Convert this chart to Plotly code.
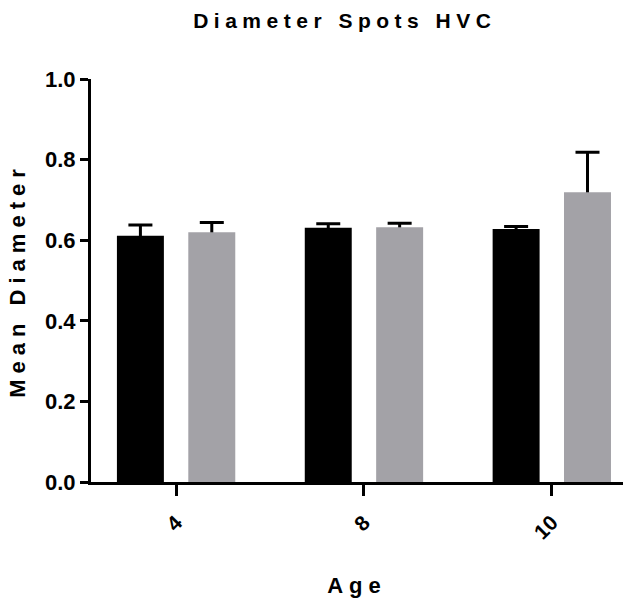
import plotly.graph_objects as go

categories = ["4", "8", "10"]
series_names = ["Group A", "Group B"]
black_values = [0.611, 0.631, 0.628]
black_err = [0.027, 0.010, 0.006]
gray_values = [0.620, 0.632, 0.719]
gray_err = [0.024, 0.010, 0.099]
y_ticks = [0.0, 0.2, 0.4, 0.6, 0.8, 1.0]
y_tick_labels = ["0.0", "0.2", "0.4", "0.6", "0.8", "1.0"]
colors = ["#000000", "#a3a2a7"]

FONT = "Liberation Sans, Arial, sans-serif"

fig = go.Figure()
# error bars first (transparent bars), so the visible bars cover the lower half
for vals, errs, grp in [(black_values, black_err, "a"), (gray_values, gray_err, "b")]:
    fig.add_trace(go.Bar(
        x=categories, y=vals, offsetgroup=grp, showlegend=False, hoverinfo="skip",
        marker=dict(color="rgba(0,0,0,0)", line=dict(width=0)),
        error_y=dict(type="data", array=errs, color="#000000", thickness=3, width=12),
    ))
for vals, name, col, grp in [(black_values, series_names[0], colors[0], "a"),
                             (gray_values, series_names[1], colors[1], "b")]:
    fig.add_trace(go.Bar(
        x=categories, y=vals, name=name, offsetgroup=grp,
        marker=dict(color=col, line=dict(width=0)),
    ))

fig.update_layout(
    width=635, height=612,
    margin=dict(l=91, r=12, t=79, b=130),
    paper_bgcolor="white", plot_bgcolor="white",
    barmode="group", bargap=0.24, bargroupgap=0.342,
    showlegend=False,
    font=dict(family=FONT, size=22, color="black", weight="bold"),
    title=dict(text="Diameter Spots HVC", x=0.543, xanchor="center",
               y=0.967, yanchor="middle",
               font=dict(family=FONT, size=21, color="black", weight="bold")),
)
fig.update_xaxes(
    type="category", range=[-0.453, 2.379], automargin=False,
    showline=True, linecolor="black", linewidth=3,
    ticks="outside", ticklen=11, tickwidth=3, tickcolor="black",
    tickangle=-45, showgrid=False, zeroline=False, ticklabelstandoff=6,
    tickfont=dict(family=FONT, size=21, color="black", weight="bold"),
    title=dict(text="Age", standoff=36,
               font=dict(family=FONT, size=22, color="black", weight="bold")),
)
fig.update_yaxes(
    range=[0, 1], tickvals=y_ticks, ticktext=y_tick_labels, automargin=False,
    showline=True, linecolor="black", linewidth=3,
    ticks="outside", ticklen=8, tickwidth=3, tickcolor="black",
    showgrid=False, zeroline=False,
    tickfont=dict(family=FONT, size=22, color="black", weight="bold"),
    title=dict(text="Mean Diameter", standoff=14,
               font=dict(family=FONT, size=22, color="black", weight="bold")),
)

post = """
document.body.style.margin = '0';
document.querySelectorAll('.gtitle').forEach(function(t){t.style.letterSpacing='5.5px';});
document.querySelectorAll('.xtitle, .ytitle').forEach(function(t){t.style.letterSpacing='6px';});
"""
fig.write_html("out.html", post_script=post, config={"displayModeBar": False})
